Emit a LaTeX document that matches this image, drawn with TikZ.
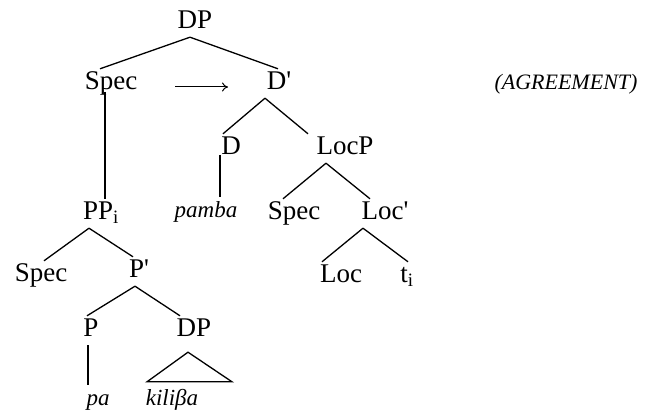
\documentclass[tikz,border=0pt]{standalone}
\usepackage{fontspec}
\setmainfont{Liberation Serif}[Ligatures=TeXOff]
\usetikzlibrary{arrows.meta}
\begin{document}
\begin{tikzpicture}[x=1pt,y=-1pt,
  lab/.style={anchor=base, font=\fontsize{27}{30}\selectfont, text height=19pt, text depth=6pt, inner sep=2pt},
  word/.style={anchor=base, font=\fontsize{23}{26}\selectfont\itshape, text height=19pt, text depth=6pt, inner sep=2pt},
  note/.style={anchor=base, font=\fontsize{22}{26}\selectfont\itshape, inner sep=0pt},
  br/.style={line width=1.3pt}]
\useasboundingbox (0,0) rectangle (649,417);
% nodes
\node[lab] (dp) at (195,29) {DP};
\node[lab] (spec1) at (111,90) {Spec};
\node[lab] (dbar) at (279,90) {D'};
\node[note] (agr) at (566,90) {(AGREEMENT)};
\node[lab] (d) at (231,155) {D};
\node[lab] (locp) at (345,155) {LocP};
\node[lab] (pp) at (101,220) {PP\textsubscript{i}};
\node[word] (pamba) at (206,218) {pamba};
\node[lab] (spec2) at (294,220) {Spec};
\node[lab] (locbar) at (385,220) {Loc'};
\node[lab] (spec3) at (41,282) {Spec};
\node[lab] (pbar) at (139,278) {P'};
\node[lab] (loc) at (341,283) {Loc};
\node[lab] (t) at (407,283) {t\textsubscript{i}};
\node[lab] (p) at (91,337) {P};
\node[lab] (dp2) at (194,337) {DP};
\node[word] (pa) at (98,406) {pa};
\node[word] (kil) at (172,406) {kiliβa};
% branches
\draw[br] ([xshift=-5pt]dp.south) -- ([xshift=-11pt]spec1.north);
\draw[br] ([xshift=-5pt]dp.south) -- ([xshift=-1pt]dbar.north);
\draw[br] ([xshift=-6pt,yshift=-2pt]spec1.base) -- ([xshift=4pt]pp.north);
\draw[-{To[length=6pt,width=9pt]}, line width=1pt] ([xshift=64pt,yshift=3pt]spec1.base) -- ([xshift=-51pt,yshift=3pt]dbar.base);
\draw[br] ([xshift=-14pt]dbar.south) -- ([xshift=-8pt]d.north);
\draw[br] ([xshift=-14pt]dbar.south) -- ([xshift=-37pt]locp.north);
\draw[br] ([xshift=-11pt]d.base) -- ([xshift=14pt]pamba.north);
\draw[br] ([xshift=-19pt]locp.south) -- ([xshift=-11pt]spec2.north);
\draw[br] ([xshift=-19pt]locp.south) -- ([xshift=-15pt]locbar.north);
\draw[br] ([xshift=-22pt]locbar.south) -- ([xshift=-19pt]loc.north);
\draw[br] ([xshift=-22pt]locbar.south) -- ([xshift=1pt]t.north);
\draw[br] ([xshift=-12pt]pp.south) -- ([xshift=3pt]spec3.north);
\draw[br] ([xshift=-12pt]pp.south) -- ([xshift=-6pt]pbar.north);
\draw[br] ([xshift=-4pt]pbar.south) -- ([xshift=-4pt]p.north);
\draw[br] ([xshift=-4pt]pbar.south) -- ([xshift=-14pt]dp2.north);
\draw[br] ([xshift=-3pt]p.south) -- ([xshift=-10pt]pa.north);
\draw[br] ([xshift=-6pt,yshift=-7pt]dp2.south) -- ([xshift=-25pt,yshift=3pt]kil.north) -- ([xshift=60pt,yshift=3pt]kil.north) -- cycle;
\end{tikzpicture}
\end{document}
